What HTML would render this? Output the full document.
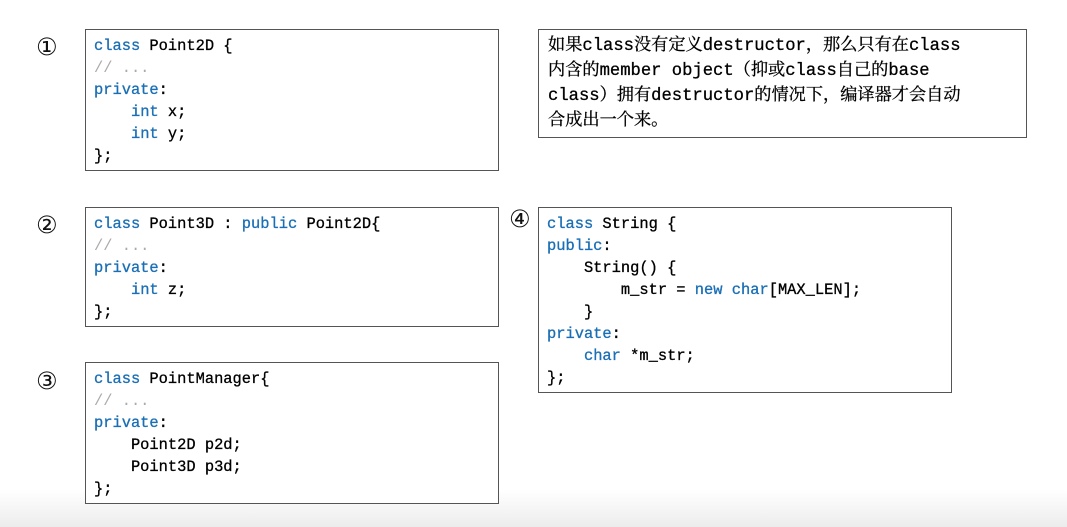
<!DOCTYPE html>
<html><head><meta charset="utf-8"><style>
body{margin:0;width:1067px;height:527px;background:linear-gradient(#fff 0,#fff 490px,#ececec 527px);position:relative;overflow:hidden;font-family:"Liberation Mono","Noto Sans CJK SC",monospace}
.box{position:absolute;border:1px solid #555;background:#fff;box-sizing:border-box}
pre{margin:0;font-family:"Liberation Mono","Noto Sans CJK SC",monospace;font-size:15.4px;line-height:22px;color:#000;position:absolute;left:8px;top:5px;-webkit-text-stroke:0.3px #000}
.k{color:#1a6fb5;-webkit-text-stroke:0.3px #1a6fb5}.c{color:#aaa;-webkit-text-stroke:0}
.n{position:absolute;font-family:"DejaVu Sans",sans-serif;font-size:24px;color:#111}
.t{position:absolute;left:9px;top:4px;font-family:"Liberation Mono","Noto Serif CJK SC",monospace;font-size:17.2px;line-height:25px;color:#000;white-space:nowrap;-webkit-text-stroke:0.3px #000}
</style></head><body>
<div class="n" style="left:36px;top:33px">①</div>
<div class="n" style="left:36px;top:211px">②</div>
<div class="n" style="left:36px;top:367px">③</div>
<div class="n" style="left:509px;top:205px">④</div>
<div class="box" style="left:85px;top:29px;width:414px;height:142px"><pre><span class="k">class</span> Point2D {
<span class="c">// ...</span>
<span class="k">private</span>:
    <span class="k">int</span> x;
    <span class="k">int</span> y;
};</pre></div>
<div class="box" style="left:85px;top:207px;width:414px;height:120px"><pre><span class="k">class</span> Point3D : <span class="k">public</span> Point2D{
<span class="c">// ...</span>
<span class="k">private</span>:
    <span class="k">int</span> z;
};</pre></div>
<div class="box" style="left:85px;top:362px;width:414px;height:142px"><pre><span class="k">class</span> PointManager{
<span class="c">// ...</span>
<span class="k">private</span>:
    Point2D p2d;
    Point3D p3d;
};</pre></div>
<div class="box" style="left:538px;top:207px;width:414px;height:186px"><pre><span class="k">class</span> String {
<span class="k">public</span>:
    String() {
        m_str = <span class="k">new</span> <span class="k">char</span>[MAX_LEN];
    }
<span class="k">private</span>:
    <span class="k">char</span> *m_str;
};</pre></div>
<div class="box" style="left:538px;top:29px;width:489px;height:109px"><div class="t">如果class没有定义destructor，那么只有在class<br>内含的member object（抑或class自己的base<br>class）拥有destructor的情况下，编译器才会自动<br>合成出一个来。</div></div>
</body></html>
